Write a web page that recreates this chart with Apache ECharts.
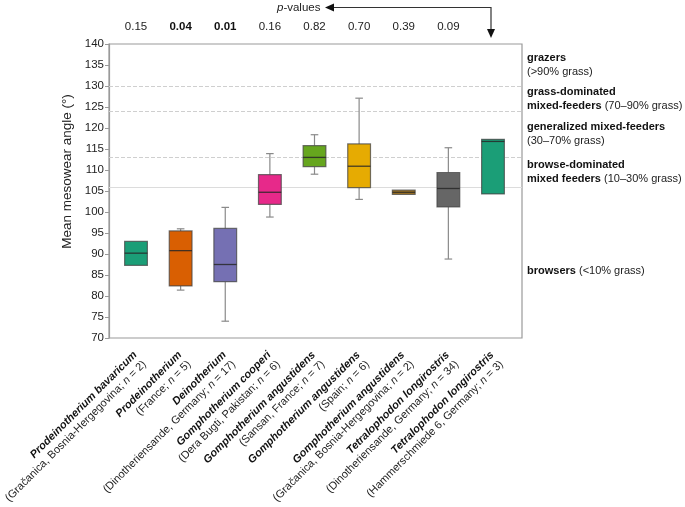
<!DOCTYPE html>
<html><head><meta charset="utf-8">
<script src="https://cdn.jsdelivr.net/npm/echarts@6/dist/echarts.min.js"></script>
<style>html,body{margin:0;padding:0;background:#fff}#c{width:685px;height:507px}</style>
</head><body><div id="c"></div>
<script>
var species = ['Prodeinotherium bavaricum','Prodeinotherium','Deinotherium','Gomphotherium cooperi','Gomphotherium angustidens','Gomphotherium angustidens','Gomphotherium angustidens','Tetralophodon longirostris','Tetralophodon longirostris'];
var localities = ['Gračanica, Bosnia-Hergegovina','France','Dinotheriensande, Germany','Dera Bugti, Pakistan','Sansan, France','Spain','Gračanica, Bosnia-Hergegovina','Dinotheriensande, Germany','Hammerschmiede 6, Germany'];
var nValues = [2,5,17,6,7,6,2,34,3];
// [min, Q1, median, Q3, max]
var boxStats = [
  [87.3, 87.3, 90.2, 93.0, 93.0],
  [81.4, 82.4, 90.8, 95.5, 96.0],
  [74.0, 83.4, 87.5, 96.1, 101.1],
  [98.8, 101.8, 104.7, 108.9, 113.9],
  [109.0, 110.8, 113.0, 115.8, 118.4],
  [103.0, 105.8, 110.9, 116.2, 127.1],
  [104.2, 104.2, 104.7, 105.2, 105.2],
  [88.8, 101.2, 105.6, 109.4, 115.3],
  [104.3, 104.3, 116.8, 117.3, 117.3]
];
var boxColors = ['#1b9e77','#d95f02','#7570b3','#e7298a','#66a61e','#e6ab02','#a6761d','#666666','#1b9e77'];
var pValues = ['0.15','0.04','0.01','0.16','0.82','0.70','0.39','0.09',''];
var pBold = [false,true,true,false,false,false,false,false,false];
var thresholds = [130, 124, 113, 106];
var thresholdDashed = [true, true, true, false];
var yTicks = {min:70, max:140, interval:5};

var FONT = 'Liberation Sans, Arial, sans-serif';
var cats = species.map(function(s,i){return 'c'+i;});

var chart = echarts.init(document.getElementById('c'), null, {renderer:'canvas'});

var seriesData = boxStats.map(function(b,i){return [i].concat(b);});

var rb = {fontWeight:'bold', fontSize:11, fontFamily:FONT, fill:'#111', lineHeight:14};

var option = {
  animation:false,
  textStyle:{fontFamily:FONT},
  grid:[
    {left:109, right:163, top:44, bottom:169, show:true, borderColor:'#9a9a9a', borderWidth:1.2, backgroundColor:'transparent', outerBoundsMode:'none', containLabel:false},
    {left:113.7, right:169.7, top:44, bottom:169, outerBoundsMode:'none', containLabel:false}
  ],
  xAxis:[
    {gridIndex:0, type:'value', min:0, max:1, show:false},
    {gridIndex:1, type:'category', data:cats, boundaryGap:true,
      axisLine:{show:false}, axisTick:{show:false},
      axisLabel:{
        interval:0, rotate:45, margin:16, fontSize:11, color:'#222', fontFamily:FONT, align:'right',
        padding:[11,0,0,0], hideOverlap:false,
        formatter:function(v, idx){
          return '{b|'+species[idx]+'}\n{r|('+localities[idx]+'; }{i|n}{r| = '+nValues[idx]+')}';
        },
        rich:{
          b:{fontWeight:'bold', fontStyle:'italic', fontSize:11, color:'#111', fontFamily:FONT, lineHeight:13, align:'right'},
          r:{fontSize:11, color:'#222', fontFamily:FONT, lineHeight:13},
          i:{fontSize:11, fontStyle:'italic', color:'#222', fontFamily:FONT, lineHeight:13}
        }
      }
    },
    {gridIndex:1, type:'category', position:'top', data:cats, boundaryGap:true,
      axisLine:{show:false}, axisTick:{show:false},
      axisLabel:{interval:0, margin:11, fontSize:11.5, color:'#222', fontFamily:FONT,
        formatter:function(v, idx){ return pBold[idx] ? '{bb|'+pValues[idx]+'}' : pValues[idx]; },
        rich:{bb:{fontWeight:'bold', fontSize:11.5, color:'#111', fontFamily:FONT}}
      }
    }
  ],
  yAxis:[
    {gridIndex:0, type:'value', min:yTicks.min, max:yTicks.max, interval:yTicks.interval,
      name:'Mean mesowear angle (°)', nameLocation:'middle', nameGap:35, nameRotate:90,
      nameTextStyle:{fontSize:13.5, color:'#222', fontFamily:FONT, padding:[0,0,0,39]},
      axisLine:{show:true, lineStyle:{color:'#9a9a9a', width:1.2}},
      axisTick:{show:true, length:4, lineStyle:{color:'#9a9a9a'}},
      axisLabel:{fontSize:11.5, color:'#222', margin:5, fontFamily:FONT},
      splitLine:{show:false}
    },
    {gridIndex:1, type:'value', min:yTicks.min, max:yTicks.max, interval:yTicks.interval, show:false, splitLine:{show:false}}
  ],
  series:[
    {
      type:'line', xAxisIndex:0, yAxisIndex:0, data:[[0,null]], silent:true, symbol:'none',
      markLine:{
        silent:true, symbol:'none', label:{show:false},
        data: thresholds.map(function(t,i){
          return {yAxis:t, lineStyle:{color: thresholdDashed[i] ? '#cfcfcf' : '#dcdcdc', type: thresholdDashed[i] ? [4,2] : 'solid', width:1}};
        })
      }
    },
    {
      type:'custom', xAxisIndex:1, yAxisIndex:1, data:seriesData, z:5,
      renderItem:function(params, api){
        var x = api.value(0);
        var mn=api.value(1), q1=api.value(2), md=api.value(3), q3=api.value(4), mx=api.value(5);
        var pMax=api.coord([x,mx]), pQ3=api.coord([x,q3]), pMd=api.coord([x,md]), pQ1=api.coord([x,q1]), pMin=api.coord([x,mn]);
        var band = api.size([1,0])[0];
        var bw = band*0.51, cw = band*0.17;
        var cx = pMd[0];
        var wStyle = {stroke:'#8a8a8a', lineWidth:1.2};
        var ch = [];
        if (mx > q3) {
          ch.push({type:'line', shape:{x1:cx,y1:pQ3[1],x2:cx,y2:pMax[1]}, style:wStyle});
          ch.push({type:'line', shape:{x1:cx-cw/2,y1:pMax[1],x2:cx+cw/2,y2:pMax[1]}, style:wStyle});
        }
        if (mn < q1) {
          ch.push({type:'line', shape:{x1:cx,y1:pQ1[1],x2:cx,y2:pMin[1]}, style:wStyle});
          ch.push({type:'line', shape:{x1:cx-cw/2,y1:pMin[1],x2:cx+cw/2,y2:pMin[1]}, style:wStyle});
        }
        ch.push({type:'rect', shape:{x:cx-bw/2, y:pQ3[1], width:bw, height:pQ1[1]-pQ3[1]},
          style:{fill:boxColors[params.dataIndex], stroke:'rgba(70,70,70,0.75)', lineWidth:1.2}});
        ch.push({type:'line', shape:{x1:cx-bw/2,y1:pMd[1],x2:cx+bw/2,y2:pMd[1]}, style:{stroke:'rgba(40,40,40,0.85)', lineWidth:1.3}});
        return {type:'group', children:ch};
      }
    }
  ],
  graphic:[
    {type:'text', left:277, top:1.5, style:{text:'{i|p}-values', font:'11.5px '+FONT, fill:'#222',
      rich:{i:{fontStyle:'italic', fontSize:11.5, fontFamily:FONT, fill:'#222'}}}},
    {type:'polyline', shape:{points:[[331,7.5],[491,7.5],[491,32]]}, style:{stroke:'#333', lineWidth:1.2, fill:null}},
    {type:'polygon', shape:{points:[[325,7.5],[334,3.5],[334,11.5]]}, style:{fill:'#111'}},
    {type:'polygon', shape:{points:[[491,38],[487,29],[495,29]]}, style:{fill:'#111'}},
    {type:'text', left:527, top:51, style:{text:'{b|grazers}\n(>90% grass)', font:'11px '+FONT, fill:'#222', lineHeight:14, rich:{b:rb}}},
    {type:'text', left:527, top:85, style:{text:'{b|grass-dominated}\n{b|mixed-feeders} (70–90% grass)', font:'11px '+FONT, fill:'#222', lineHeight:14, rich:{b:rb}}},
    {type:'text', left:527, top:120, style:{text:'{b|generalized mixed-feeders}\n(30–70% grass)', font:'11px '+FONT, fill:'#222', lineHeight:14, rich:{b:rb}}},
    {type:'text', left:527, top:158, style:{text:'{b|browse-dominated}\n{b|mixed feeders} (10–30% grass)', font:'11px '+FONT, fill:'#222', lineHeight:14, rich:{b:rb}}},
    {type:'text', left:527, top:264, style:{text:'{b|browsers} (<10% grass)', font:'11px '+FONT, fill:'#222', lineHeight:14, rich:{b:rb}}}
  ]
};
chart.setOption(option);
</script>
</body></html>
